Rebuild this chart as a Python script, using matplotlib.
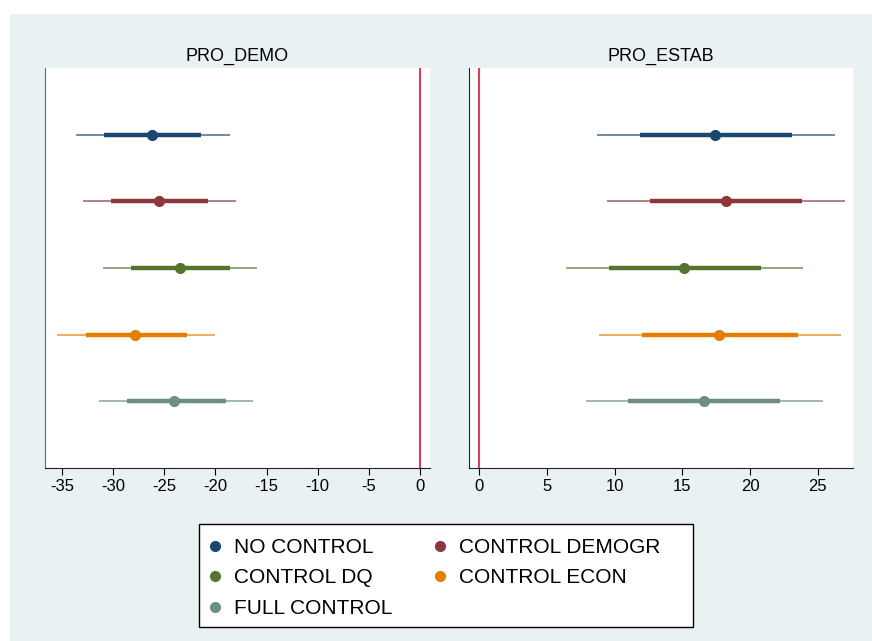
import numpy as np
import matplotlib.pyplot as plt
from matplotlib.lines import Line2D
from matplotlib.patches import Rectangle

plt.rcParams['font.family'] = ['Liberation Sans', 'DejaVu Sans']
plt.rcParams['axes.unicode_minus'] = False

# --- data ---
models = ["NO CONTROL", "CONTROL DEMOGR", "CONTROL DQ", "CONTROL ECON", "FULL CONTROL"]
colors = ["#1a476f", "#90353b", "#55752f", "#e37e00", "#6e8e84"]

demo_coef = [-26.2, -25.5, -23.5, -27.9, -24.0]
demo_lo95 = [-33.6, -32.9, -31.0, -35.5, -31.4]
demo_hi95 = [-18.6, -18.0, -15.9, -20.0, -16.3]
demo_lo90 = [-30.9, -30.2, -28.3, -32.7, -28.6]
demo_hi90 = [-21.4, -20.7, -18.6, -22.8, -19.0]

estab_coef = [17.4, 18.2, 15.1, 17.7, 16.6]
estab_lo95 = [8.7, 9.4, 6.4, 8.8, 7.9]
estab_hi95 = [26.3, 27.0, 23.9, 26.7, 25.4]
estab_lo90 = [11.9, 12.6, 9.6, 12.0, 11.0]
estab_hi90 = [23.1, 23.8, 20.8, 23.5, 22.2]

panels = [
    ("PRO_DEMO", demo_coef, demo_lo95, demo_hi95, demo_lo90, demo_hi90, np.arange(-35, 1, 5), (-36.66, 0.98)),
    ("PRO_ESTAB", estab_coef, estab_lo95, estab_hi95, estab_lo90, estab_hi90, np.arange(0, 26, 5), (-0.77, 27.6)),
]

W, H = 872, 641
fig = plt.figure(figsize=(W / 100, H / 100), dpi=100)
fig.patch.set_facecolor('white')
# light graph region like stata's s2color
fig.patches.append(Rectangle((10 / W, 0), 1, 1 - 14 / H, transform=fig.transFigure,
                             facecolor='#e9f1f3', edgecolor='none', zorder=-10))

ax_pos = [[45 / W, 1 - 468 / H, 385 / W, 400 / H],
          [469 / W, 1 - 468 / H, 384 / W, 400 / H]]

ypos = np.arange(1, len(models) + 1)

for i, (title, coef, lo95, hi95, lo90, hi90, ticks, xlim) in enumerate(panels):
    ax = fig.add_axes(ax_pos[i])
    ax.set_facecolor('white')
    ax.axvline(0, color='#d2405c', lw=1.5, zorder=1)
    for j in range(len(models)):
        ax.hlines(ypos[j], lo95[j], hi95[j], color=colors[j], lw=1.1, alpha=0.8, zorder=2)
        ax.hlines(ypos[j], lo90[j], hi90[j], color=colors[j], lw=3.2, zorder=3)
        ax.plot(coef[j], ypos[j], 'o', color=colors[j], ms=7, zorder=4)
    ax.set_xlim(*xlim)
    ax.set_ylim(6, 0)
    ax.set_xticks(ticks)
    ax.set_yticks([])
    ax.tick_params(axis='x', labelsize=12, length=5, direction='out', pad=3)
    for s in ['top', 'right']:
        ax.spines[s].set_visible(False)
    ax.spines['left'].set_color('#666666' if i == 0 else '#222222')
    ax.spines['bottom'].set_color('#222222')
    ax.set_title(title, fontsize=13, pad=5)

# legend box drawn by hand so the padding can be uneven like stata's
fig.patches.append(Rectangle((199 / W, 1 - 627 / H), 494 / W, 103 / H, transform=fig.transFigure,
                             facecolor='white', edgecolor='black', lw=1.0, zorder=5))
handles = [Line2D([], [], ls='none', marker='o', ms=7, color=c) for c in colors]
order = [0, 2, 4, 1, 3]
leg = fig.legend([handles[k] for k in order], [models[k] for k in order],
                 ncol=2, loc='upper left', bbox_to_anchor=(204.5 / W, 1 - 538 / H),
                 fontsize=15, frameon=False, handletextpad=0.4, handlelength=1.0,
                 columnspacing=1.8, labelspacing=0.55, borderpad=0, borderaxespad=0)
leg.set_zorder(6)

fig.savefig("out.png", dpi=100)
